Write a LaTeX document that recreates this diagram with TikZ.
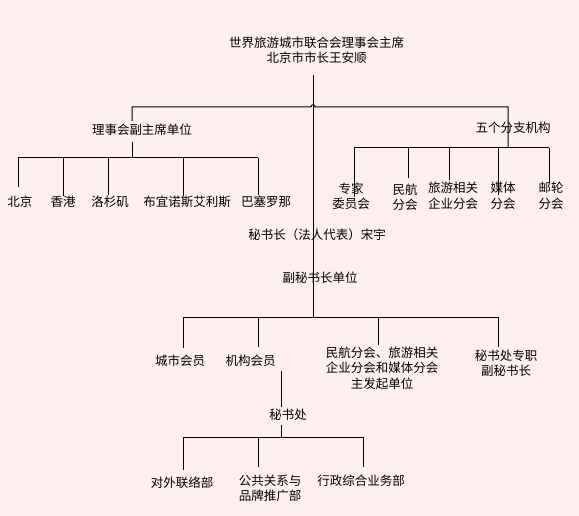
\documentclass[tikz,border=0pt]{standalone}
\usepackage{fontspec}
\newfontfamily\cjk{Noto Sans CJK SC}
\definecolor{bgpink}{RGB}{255,240,240}
\tikzset{
  lbl/.style={font=\cjk\fontsize{12.5}{15.5}\selectfont, inner sep=0pt, align=center, text=black},
  conn/.style={line width=1pt, draw=black}
}
\begin{document}
\begin{tikzpicture}[x=1pt,y=-1pt]
\fill[bgpink] (0,0) rectangle (579,516);
\useasboundingbox (0,0) rectangle (579,516);

% nodes
\node[lbl] (top) at (316.5,50) {世界旅游城市联合会理事会主席\\北京市市长王安顺};
\node[lbl] (vice) at (142,130) {理事会副主席单位};
\node[lbl] (branch) at (513,128) {五个分支机构};
\node[lbl] (bj) at (20,202) {北京};
\node[lbl] (hk) at (63,202) {香港};
\node[lbl] (la) at (110,202) {洛杉矶};
\node[lbl] (ba) at (187,202) {布宜诺斯艾利斯};
\node[lbl] (bc) at (266,202) {巴塞罗那};
\node[lbl] (zj) at (351,196) {专家\\委员会};
\node[lbl] (mh) at (405,197) {民航\\分会};
\node[lbl] (ly) at (453,196) {旅游相关\\企业分会};
\node[lbl] (mt) at (503,196) {媒体\\分会};
\node[lbl] (yl) at (551,196) {邮轮\\分会};
\node[lbl] (sg) at (317,235) {秘书长（法人代表）宋宇};
\node[lbl] (dsg) at (320,278) {副秘书长单位};
\node[lbl] (city) at (180,361) {城市会员};
\node[lbl] (org) at (250.5,361) {机构会员};
\node[lbl] (fq) at (382,368) {民航分会、旅游相关\\企业分会和媒体分会\\主发起单位};
\node[lbl] (zz) at (506,363) {秘书处专职\\副秘书长};
\node[lbl] (mso) at (288,415) {秘书处};
\node[lbl] (dw) at (182,483) {对外联络部};
\node[lbl] (gg) at (270,488.5) {公共关系与\\品牌推广部};
\node[lbl] (xz) at (361,481) {行政综合业务部};

% connector end points
\coordinate (mtop) at (313,75);
\coordinate (busA) at (313,107);
\coordinate (viceIn) at (132,121);
\coordinate (branchIn) at (508,148);
\coordinate (viceOut) at (132,142);
\coordinate (busB) at (132,158);
\coordinate (eBJ) at (18,187);
\coordinate (eHK) at (63,196);
\coordinate (eLA) at (108,195);
\coordinate (eBA) at (183,196);
\coordinate (eBC) at (258,195);
\coordinate (eZJ) at (354,197);
\coordinate (eMH) at (408,178);
\coordinate (eLY) at (449,180);
\coordinate (eMT) at (498,195);
\coordinate (eYL) at (549,183);
\coordinate (busC) at (313,317);
\coordinate (eCity) at (183,348);
\coordinate (eOrg) at (258,347);
\coordinate (eFQ) at (378,345);
\coordinate (eZZ) at (498,347);
\coordinate (orgOut) at (281,371);
\coordinate (msoIn) at (281,407);
\coordinate (msoOut) at (281,425);
\coordinate (busD) at (281,437);
\coordinate (eDW) at (183,470);
\coordinate (eGG) at (258,467);
\coordinate (eXZ) at (363,467);

% top level
\draw[conn] (mtop) -- (busC);
\draw[conn] (viceIn) -- (viceIn |- busA) -- ([xshift=-2pt]busA)
  .. controls ([xshift=-2pt,yshift=3pt]busA) and ([xshift=2pt,yshift=3pt]busA) .. ([xshift=2pt]busA)
  -- (branchIn |- busA) -- (branchIn);

% vice chairman units
\draw[conn] (viceOut) -- (busB);
\draw[conn] (eBJ |- busB) -- (eBC |- busB);
\foreach \e in {eBJ,eHK,eLA,eBA,eBC} \draw[conn] (\e |- busB) -- (\e);

% branches
\draw[conn] (eZJ |- branchIn) -- (eYL |- branchIn);
\foreach \e in {eZJ,eMH,eLY,eMT,eYL} \draw[conn] (\e |- branchIn) -- (\e);

% deputy secretary units
\draw[conn] (eCity |- busC) -- (eZZ |- busC);
\foreach \e in {eCity,eOrg,eFQ,eZZ} \draw[conn] (\e |- busC) -- (\e);

% secretariat
\draw[conn] (orgOut) -- (msoIn);
\draw[conn] (msoOut) -- (busD);
\draw[conn] (eDW |- busD) -- (eXZ |- busD);
\foreach \e in {eDW,eGG,eXZ} \draw[conn] (\e |- busD) -- (\e);
\end{tikzpicture}
\end{document}
